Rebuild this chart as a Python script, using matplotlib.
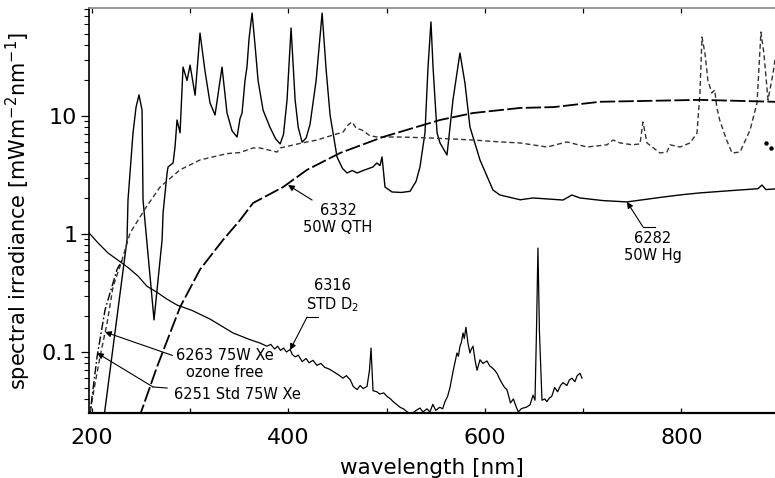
import matplotlib
matplotlib.use("Agg")
import matplotlib.pyplot as plt
from matplotlib.ticker import LogLocator, NullFormatter, FixedLocator, FixedFormatter

plt.rcParams['font.family'] = ['DejaVu Sans']
plt.rcParams['mathtext.fontset'] = 'dejavusans'
plt.rcParams['lines.scale_dashes'] = False

# 6282 50W Hg lamp
hg_nm = [212, 235.7, 236.7, 241.8, 244.9, 247.9, 251.0, 252.0, 263.2, 271.4, 272.4,
         276.5, 277.5, 282.6, 284.6, 286.6, 289.7, 292.7, 296.8, 299.9, 305.0, 310.0,
         315.1, 320.2, 325.3, 332.4, 337.5, 342.6, 347.7, 350.7, 352.8, 355.8, 357.8,
         359.9, 363.0, 366.0, 369.1, 374.2, 381.3, 387.0, 391.6, 395.0, 398.6, 402.7,
         406.8, 410.0, 413.9, 418.0, 422.0, 428.2, 434.3, 438.4, 442.4, 449.5, 455.0,
         459.7, 465.0, 470.0, 476.0, 486.1, 490.0, 493.2, 495.3, 498.3, 505.5, 515.0,
         523.8, 530.0, 533.9, 539.0, 542.1, 545.1, 547.2, 551.3, 554.3, 561.4, 567.5,
         574.6, 579.7, 584.8, 595.0, 608.2, 615.3, 636.0, 649.0, 679.5, 688.6, 696.8,
         720.0, 744.6, 780.0, 800.0, 818.9, 850.0, 878.0, 882.0, 886.0, 895.3]
hg_val = [0.027, 0.89, 1.94, 7.2, 11.9, 15.1, 11.2, 1.94, 0.187, 0.89, 1.51,
          3.3, 3.7, 4.0, 5.5, 9.25, 7.2, 26, 20, 27, 15, 50.5,
          24, 12.9, 10.2, 26, 10.6, 7.5, 6.64, 9.5, 10.6, 20, 26,
          45, 74.6, 40, 20, 11.2, 8.0, 6.4, 5.8, 7.0, 13.7, 55.7,
          13.7, 8.0, 6.0, 6.5, 8.5, 20, 74.6, 24.5, 10.2, 4.49, 3.6,
          3.29, 3.45, 3.29, 3.45, 3.7, 4.0, 3.8, 4.5, 2.5, 2.27, 2.25,
          2.3, 2.8, 3.7, 7.2, 26, 62.7, 26, 7.2, 5.91, 4.67, 13.7,
          34.2, 19, 8.07, 4.24, 2.36, 2.14, 1.95, 2.02, 1.94, 2.14, 2.02,
          1.92, 1.87, 2.05, 2.15, 2.23, 2.33, 2.42, 2.6, 2.38, 2.41]

# 6263 75W Xe ozone free
xe_nm = [197.5, 200.1, 208.2, 215.4, 221.5, 230.6, 238.8, 255.2, 269.3, 289.7, 310.0,
         337.5, 350.7, 364.0, 371.1, 388.5, 391.6, 413.9, 429.2, 445.5, 455.6, 460.7,
         464.8, 468.9, 475.0, 483.0, 490.2, 513.6, 547.0, 587.9, 615.3, 635.7, 663.3,
         683.5, 703.9, 724.3, 730.4, 737.6, 750.0, 757.9, 760.9, 765.0, 778.2, 785.3,
         788.4, 798.6, 808.8, 815.9, 818.9, 821.0, 824.0, 827.0, 831.0, 834.0, 836.0,
         839.0, 846.0, 851.6, 859.7, 869.9, 877.0, 881.0, 884.0, 888.2, 893.3, 895.3]
xe_val = [0.027, 0.039, 0.091, 0.176, 0.357, 0.60, 1.02, 1.69, 2.5, 3.5, 4.24,
          4.8, 4.9, 5.36, 5.36, 4.95, 5.36, 5.91, 6.26, 6.9, 7.3, 8.4,
          8.9, 7.9, 7.6, 6.8, 6.64, 6.64, 6.5, 6.26, 6.03, 5.91, 5.46,
          6.03, 5.46, 5.7, 6.26, 5.91, 5.7, 5.8, 8.9, 5.91, 4.86, 4.95,
          5.7, 5.46, 5.91, 7.17, 15.7, 46.7, 34, 20, 15.7, 16.6, 11.9,
          9.25, 6.26, 4.86, 4.95, 7.6, 12.9, 51.5, 34, 13.7, 23, 30]

# 6251 Std 75W Xe (only its UV edge is separate)
xe_std_nm = [197.3, 205.2, 213.3, 225.5, 230.6]
xe_std_val = [0.027, 0.091, 0.227, 0.50, 0.60]
xe_dots_nm = [886.2, 891.3]
xe_dots_val = [5.9, 5.4]

# 6332 50W QTH
qth_nm = [247.5, 266.3, 289.7, 310.0, 333.4, 350.7, 364.0, 394.6, 419.0, 452.6,
          496.3, 554.3, 587.9, 635.7, 670.0, 717.1, 818.9, 895.3]
qth_val = [0.027, 0.075, 0.24, 0.50, 0.89, 1.31, 1.83, 2.5, 3.5, 4.86,
           6.64, 9.25, 10.6, 11.7, 11.9, 13.2, 13.7, 13.2]

# 6316 STD D2
d2_nm = [197.1, 206.2, 216.4, 226.5, 236.7, 246.9, 256.1, 266.3, 276.5, 286.6, 301.9,
         320.2, 343.6, 360, 371.1, 378, 382, 386, 389, 392, 395, 398, 401.7, 404, 407,
         410, 414, 418, 421, 425, 429, 433, 437, 441, 446, 451, 455.6, 459, 463, 466,
         470, 473, 476, 480, 482.5, 484.1, 486.1, 490, 493, 497, 500.4, 504, 506.5, 510,
         513.6, 517, 521, 524, 527, 530, 533.9, 537, 541, 544, 547, 550, 554, 557,
         559.4, 562, 564.5, 567.5, 570, 571.5, 573, 574.6, 576, 577.7, 579, 580.7,
         582.8, 584.8, 586, 587.9, 590, 592, 595, 598, 602.1, 605, 607, 610, 612.3,
         615, 617, 620, 622.4, 624, 626, 629, 632, 634, 637, 639, 642, 645.9, 649, 651,
         652.5, 654, 655.5, 658.1, 661, 663, 666, 668, 671, 674, 677, 679.5, 683.5, 686,
         688.6, 691.6, 694, 696.8, 698.8]
d2_val = [1.02, 0.84, 0.69, 0.60, 0.52, 0.44, 0.36, 0.32, 0.28, 0.25, 0.225,
          0.19, 0.145, 0.128, 0.119, 0.112, 0.116, 0.106, 0.112, 0.103, 0.108, 0.100, 0.105, 0.095, 0.091,
          0.094, 0.083, 0.088, 0.081, 0.085, 0.077, 0.080, 0.074, 0.072, 0.068, 0.064, 0.060, 0.063, 0.058, 0.051,
          0.048, 0.052, 0.049, 0.051, 0.07, 0.108, 0.047, 0.046, 0.044, 0.045, 0.042, 0.040, 0.038, 0.036,
          0.034, 0.033, 0.031, 0.030, 0.0305, 0.032, 0.0335, 0.031, 0.033, 0.031, 0.036, 0.032, 0.034, 0.033,
          0.038, 0.042, 0.050, 0.068, 0.085, 0.098, 0.092, 0.112, 0.12, 0.145, 0.13, 0.162,
          0.118, 0.098, 0.105, 0.112, 0.085, 0.070, 0.086, 0.080, 0.084, 0.076, 0.074, 0.070, 0.066,
          0.059, 0.055, 0.050, 0.048, 0.043, 0.037, 0.040, 0.034, 0.031, 0.033, 0.0335, 0.034, 0.0356, 0.043, 0.039,
          0.15, 0.76, 0.15, 0.039, 0.040, 0.038, 0.041, 0.042, 0.050, 0.046, 0.052, 0.055, 0.052, 0.058,
          0.060, 0.056, 0.063, 0.066, 0.060]

x_ticks = [200, 300, 400, 500, 600, 700, 800, 900]
x_labels = ['200', '', '400', '', '600', '', '800', '']
y_ticks = [0.1, 1, 10]
y_labels = ['0.1', '1', '10']

fig = plt.figure(figsize=(7.75, 4.78), dpi=100)
ax = fig.add_axes([89 / 775, 1 - 413 / 478, (775 - 89) / 775, (413 - 8) / 478])

ax.plot(hg_nm, hg_val, color='black', lw=1.0)
ax.plot(d2_nm, d2_val, color='black', lw=0.9)
ax.plot(xe_nm, xe_val, color='#333333', lw=1.0, dashes=(3.6, 2.2))
ax.plot(xe_std_nm, xe_std_val, color='black', lw=1.0, dashes=(6, 1.8, 1.2, 1.8))
ax.plot(xe_dots_nm, xe_dots_val, ls='none', marker='o', ms=2.2, color='black')
ax.plot(qth_nm, qth_val, color='black', lw=1.3, dashes=(11, 2.4))

ax.set_yscale('log')
ax.set_xlim(197, 895.3)
ax.set_ylim(0.0304, 82.3)

ax.xaxis.set_major_locator(FixedLocator(x_ticks))
ax.xaxis.set_major_formatter(FixedFormatter(x_labels))
ax.yaxis.set_major_locator(FixedLocator(y_ticks))
ax.yaxis.set_major_formatter(FixedFormatter(y_labels))
ax.yaxis.set_minor_locator(LogLocator(base=10, subs=range(2, 10), numticks=20))
ax.yaxis.set_minor_formatter(NullFormatter())

ax.tick_params(axis='x', which='major', direction='in', length=3.5, width=0.9,
               top=True, labelsize=16, pad=11)
ax.tick_params(axis='y', which='major', direction='out', length=5.5, width=0.9,
               labelsize=16, pad=3)
ax.tick_params(axis='y', which='minor', direction='out', length=3.5, width=0.8)

ax.spines['right'].set_visible(False)
ax.spines['top'].set_color('#888888')
ax.spines['left'].set_linewidth(1.2)
ax.spines['bottom'].set_linewidth(1.6)
ax.spines['top'].set_linewidth(1.2)

ax.set_xlabel('wavelength [nm]', fontsize=15.5, labelpad=7)
ax.set_ylabel('spectral irradiance [mWm$^{-2}$nm$^{-1}$]', fontsize=15, labelpad=6)

# annotations: (text, text position, path from tip outwards)
notes = [
    ('6263 75W Xe\nozone free', (335.5, 0.079), [(213.3, 0.1476), (282, 0.0935)]),
    ('6251 Std 75W Xe', (347.6, 0.0433), [(205.2, 0.098), (262.2, 0.0505), (276.5, 0.0495)]),
    ('6316\nSTD D$_2$', (445.3, 0.30), [(401.7, 0.104), (419.0, 0.198), (430.2, 0.198)]),
    ('6332\n50W QTH', (450.5, 1.35), [(399.6, 2.6), (424.1, 1.94)]),
    ('6282\n50W Hg', (771.0, 0.77), [(744.6, 1.87), (760.9, 1.15), (773.1, 1.15)]),
]
for text, pos, path in notes:
    ax.text(pos[0], pos[1], text, fontsize=10.5, ha='center', va='center',
            linespacing=1.15)
    xs = [p[0] for p in path]
    ys = [p[1] for p in path]
    ax.plot(xs[1:], ys[1:], color='black', lw=0.8)
    ax.annotate('', xy=path[0], xytext=path[1],
                arrowprops=dict(arrowstyle='-|>', color='black', lw=0.8,
                                mutation_scale=9, shrinkA=0, shrinkB=0))

fig.savefig('out.png', dpi=100)
